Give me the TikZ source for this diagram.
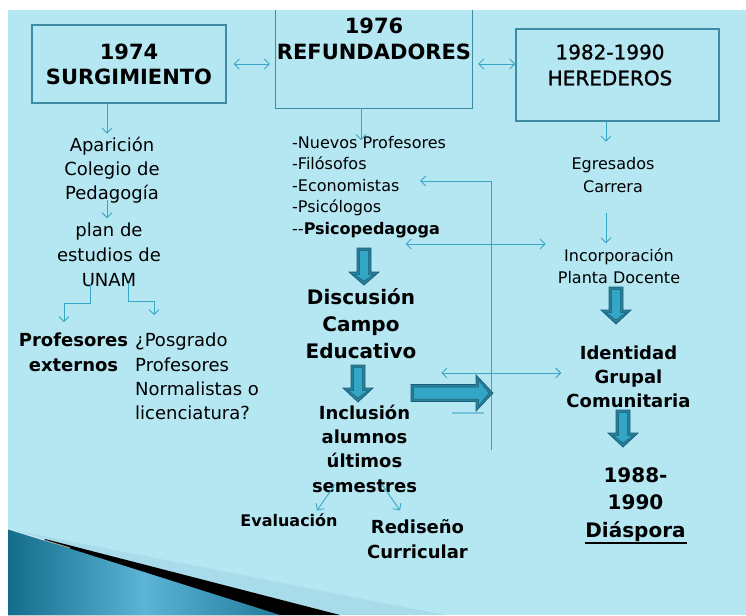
\documentclass[tikz,border=0pt]{standalone}
\usepackage{fontspec}
\setmainfont{DejaVu Sans}
\newfontfamily\medfont[FakeBold=1.2]{DejaVu Sans}
\usetikzlibrary{arrows.meta,calc}
\definecolor{bg}{RGB}{181,231,243}
\definecolor{boxc}{RGB}{61,140,163}
\definecolor{connc}{RGB}{58,166,198}
\definecolor{fatin}{RGB}{50,166,196}
\definecolor{fatout}{RGB}{38,128,156}
\definecolor{fatdark}{RGB}{28,96,118}
\definecolor{band}{RGB}{168,220,234}
\definecolor{shdark}{RGB}{18,108,138}
\definecolor{shlight}{RGB}{92,180,214}
\newcommand\fsz[2]{\fontsize{#1}{#2}\selectfont}
% down block arrow: x, ytop, ytip, shaft half width, head half width, head length
\newcommand\fatdown[6]{%
  \filldraw[fill=fatout, draw=fatdark, line width=0.8pt]
    ({#1-#4},#2) -- ({#1+#4},#2) -- ({#1+#4},{#3-#6}) -- ({#1+#5},{#3-#6})
    -- (#1,#3) -- ({#1-#5},{#3-#6}) -- ({#1-#4},{#3-#6}) -- cycle;
  \filldraw[fill=fatin, draw=fatdark, line width=0.5pt]
    ({#1-#4+2.5},{#2+2.5}) -- ({#1+#4-2.5},{#2+2.5}) -- ({#1+#4-2.5},{#3-#6+2.5}) -- ({#1+#5-5},{#3-#6+2.5})
    -- (#1,{#3-4}) -- ({#1-#5+5},{#3-#6+2.5}) -- ({#1-#4+2.5},{#3-#6+2.5}) -- cycle;
}
% right block arrow: y, xleft, xtip, shaft half width, head half width, head length
\newcommand\fatright[6]{%
  \filldraw[fill=fatout, draw=fatdark, line width=0.8pt]
    (#2,{#1-#4}) -- (#2,{#1+#4}) -- ({#3-#6},{#1+#4}) -- ({#3-#6},{#1+#5})
    -- (#3,#1) -- ({#3-#6},{#1-#5}) -- ({#3-#6},{#1-#4}) -- cycle;
  \filldraw[fill=fatin, draw=fatdark, line width=0.5pt]
    ({#2+2.5},{#1-#4+2.5}) -- ({#2+2.5},{#1+#4-2.5}) -- ({#3-#6+2.5},{#1+#4-2.5}) -- ({#3-#6+2.5},{#1+#5-5})
    -- ({#3-4},#1) -- ({#3-#6+2.5},{#1-#5+5}) -- ({#3-#6+2.5},{#1-#4+2.5}) -- cycle;
}
\tikzset{
  box/.style={draw=boxc, line width=1.3pt, inner sep=0pt, align=center},
  lnk/.style={draw=connc, line width=0.9pt, -{Straight Barb[length=5pt,width=10pt]}},
  lnktwo/.style={draw=connc, line width=0.9pt, {Straight Barb[length=5pt,width=10pt]}-{Straight Barb[length=5pt,width=10pt]}},
  txt/.style={inner sep=0pt, align=center, text=black},
}
\begin{document}
\begin{tikzpicture}[x=1pt,y=-1pt]
\useasboundingbox (0,0) rectangle (746,615);
\fill[bg] (0,0) rectangle (746,615);
% bottom-left decoration
\fill[band] (8,529) -- (445,615) -- (8,615) -- cycle;
\fill[black] (45,539) -- (340,615) -- (8,615) -- cycle;
\shade[left color=shdark, right color=shdark!80!shlight, middle color=shlight] (8,529) -- (280,615) -- (8,615) -- cycle;
\draw[white, opacity=0.6, line width=1pt] (8,529) -- (70,548);

% boxes
\node[box, minimum width=194pt, minimum height=78pt, font=\bfseries\fsz{21}{25}] (b1) at (129,64) {1974\\SURGIMIENTO};
\node[inner sep=0pt, minimum width=196pt, minimum height=103pt] (b2) at (374,56.5) {};
\draw[boxc, line width=1.3pt] (b2.north west) -- (b2.south west) -- (b2.south east) -- (b2.north east);
\node[txt, font=\bfseries\fsz{21}{26}] (b2t) at (374,39) {1976\\REFUNDADORES};
\node[box, minimum width=203pt, minimum height=92pt] (b3) at (617.5,75) {};
\node[txt, font=\medfont\fsz{20}{26}] (b3t) at (610,65) {1982-1990\\HEREDEROS};

\draw[lnktwo, shorten <=7pt, shorten >=6pt] (b1.east) -- (b1.east -| b2.west);
\draw[lnktwo, shorten <=6pt] (b1.east -| b2.east) -- (b1.east -| b3.west);

% left column
\node[txt, font=\fsz{18}{24}] (apar) at (112,170) {Aparición\\Colegio de\\Pedagogía};
\node[txt, font=\fsz{18}{25}] (plan) at (109,255) {plan de\\estudios de\\UNAM};
\node[txt, font=\bfseries\fsz{18}{25}] (pext) at (73.5,352.5) {Profesores\\externos};
\node[txt, align=left, anchor=west, font=\fsz{18}{24.3}] (posg) at (135,376.5) {¿Posgrado\\Profesores\\Normalistas o\\licenciatura?};

\draw[lnk] ([xshift=-22pt]b1.south) -- ++(0,30);
\draw[lnk] ([xshift=-5pt,yshift=3pt]apar.south) -- ++(0,18);
\draw[lnk] ([xshift=-19pt,yshift=3pt]plan.south) |- ++(-26,19) -- ++(0,19);
\draw[lnk] ([xshift=19pt,yshift=3pt]plan.south) |- ++(26,17) -- ++(0,14);

% middle column
\node[txt, align=left, anchor=west, font=\fsz{16}{21.5}] (list) at (292,187) {-Nuevos Profesores\\-Filósofos\\-Economistas\\-Psicólogos\\-{}-\textbf{Psicopedagoga}};
\node[txt, font=\bfseries\fsz{20}{27}] (disc) at (361,324) {Discusión\\Campo\\Educativo};
\node[txt, font=\bfseries\fsz{18}{24.3}] (incl) at (364.5,448.5) {Inclusión\\alumnos\\últimos\\semestres};
\node[txt, font=\bfseries\fsz{16}{20}] (eval) at (289,520) {Evaluación};
\node[txt, font=\bfseries\fsz{18}{25}] (redi) at (417.5,539.5) {Rediseño\\Curricular};

\draw[lnk] ([xshift=-13pt]b2.south) -- ++(0,32);
\fatdown{364}{248}{285}{7}{15}{13}
\fatdown{358}{365}{402}{7}{15}{14}
\draw[lnk] ([xshift=-29.5pt,yshift=8pt]incl.south) -- ++(-18,26);
\draw[lnk] ([xshift=17.5pt,yshift=8pt]incl.south) -- ++(18,26);

% right column
\node[txt, font=\fsz{16}{23}] (egre) at (613,175.5) {Egresados\\Carrera};
\node[txt, font=\fsz{16}{22}] (inco) at (619,266) {Incorporación\\Planta Docente};
\node[txt, font=\bfseries\fsz{18}{24}] (iden) at (628.5,377) {Identidad\\Grupal\\Comunitaria};
\node[txt, font=\bfseries\fsz{20}{27.5}] (dias) at (635.5,504.5) {1988-\\1990\\Diáspora};
\draw[black, line width=1.8pt] ([xshift=-51pt,yshift=-1pt]dias.south) -- ([xshift=51pt,yshift=-1pt]dias.south);

\draw[lnk] ([xshift=-11.5pt]b3.south) -- ++(0,20);
\draw[lnk] ([xshift=-7pt,yshift=-20pt]egre.south) -- ++(0,30);
\fatdown{616}{287}{324}{7}{15}{14}
\fatdown{623}{410}{447}{7}{15}{14}

% cross links
\coordinate (vb) at (491,450);
\draw[lnk] (vb) |- ++(-71,-269);
\draw[lnktwo] ([xshift=-12pt,yshift=22pt]inco.west) -- ++(-140,0);
\draw[lnktwo] ([xshift=-5pt,yshift=4pt]iden.west) -- ++(-120,0);
\draw[connc!70!white, line width=1.5pt] (452,413) -- (484,413);
\fatright{393}{411}{493}{8.5}{18}{17}

% white margins
\fill[white] (0,0) rectangle (746,10);
\fill[white] (0,0) rectangle (8,615);
\end{tikzpicture}
\end{document}
